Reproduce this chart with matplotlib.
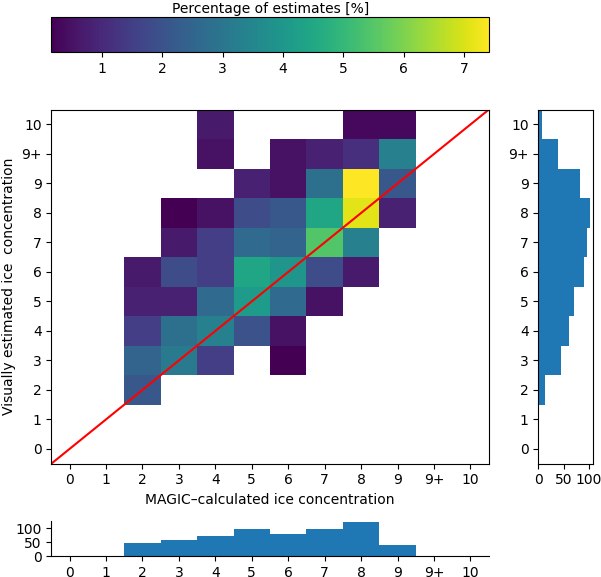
import numpy as np
import matplotlib
matplotlib.use("Agg")
import matplotlib.pyplot as plt

# Category labels (both axes)
labels = ["0", "1", "2", "3", "4", "5", "6", "7", "8", "9", "9+", "10"]

# Number of estimates per cell: rows = visual estimate (0..10), cols = MAGIC (0..10)
counts = np.array([
    # 0  1  2   3   4   5   6   7   8   9  9+ 10
    [0, 0, 0,  0,  0,  0,  0,  0,  0,  0, 0, 0],   # 0
    [0, 0, 0,  0,  0,  0,  0,  0,  0,  0, 0, 0],   # 1
    [0, 0, 13, 0,  0,  0,  0,  0,  0,  0, 0, 0],   # 2
    [0, 0, 15, 19, 9,  0,  1,  0,  0,  0, 0, 0],   # 3
    [0, 0, 9,  17, 20, 12, 3,  0,  0,  0, 0, 0],   # 4
    [0, 0, 5,  5,  16, 25, 16, 3,  0,  0, 0, 0],   # 5
    [0, 0, 4,  11, 9,  27, 24, 11, 4,  0, 0, 0],   # 6
    [0, 0, 0,  4,  9,  16, 15, 33, 20, 0, 0, 0],   # 7
    [0, 0, 0,  1,  3,  11, 13, 27, 43, 5, 0, 0],   # 8
    [0, 0, 0,  0,  0,  5,  3,  17, 45, 13, 0, 0],  # 9
    [0, 0, 0,  0,  3,  0,  3,  5,  7,  20, 0, 0],  # 9+
    [0, 0, 0,  0,  4,  0,  0,  0,  2,  2, 0, 0],   # 10
], dtype=float)

total = counts.sum()
percent = np.where(counts > 0, counts / total * 100.0, np.nan)
col_sums = counts.sum(axis=0)   # MAGIC marginal
row_sums = counts.sum(axis=1)   # visual marginal

W, H = 601, 577
fig = plt.figure(figsize=(W / 100, H / 100), dpi=100)

def fr(x0, y0, x1, y1):
    return [x0 / W, 1 - y1 / H, (x1 - x0) / W, (y1 - y0) / H]

ax = fig.add_axes(fr(51.3, 109.7, 488.7, 463.7))
axr = fig.add_axes(fr(538.3, 109.7, 593.0, 463.7), sharey=ax)
axb = fig.add_axes(fr(51.3, 520.7, 488.7, 556.0), sharex=ax)
cax = fig.add_axes(fr(51.3, 17.3, 489.3, 52.3))

n = len(labels)
idx = np.arange(n)
mesh = ax.pcolormesh(np.arange(n + 1) - 0.5, np.arange(n + 1) - 0.5,
                     np.ma.masked_invalid(percent), cmap="viridis")
ax.plot([-0.5, n - 0.5], [-0.5, n - 0.5], color="red")
ax.set_xlim(-0.5, n - 0.5)
ax.set_ylim(-0.5, n - 0.5)
ax.set_xticks(idx)
ax.set_xticklabels(labels)
ax.set_yticks(idx)
ax.set_yticklabels(labels)
ax.set_xlabel("MAGIC\u2013calculated ice concentration")
ax.set_ylabel("Visually estimated ice  concentration")

axr.barh(idx, row_sums, height=1.0, color="#1f77b4")
axr.set_xticks([0, 50, 100])
axr.tick_params(axis="y", labelleft=True)

axb.bar(idx, col_sums, width=1.0, color="#1f77b4")
axb.set_yticks([0, 50, 100])
axb.spines["top"].set_visible(False)
axb.spines["right"].set_visible(False)
axb.tick_params(axis="x", labelbottom=True)
ax.tick_params(axis="x", labelbottom=True)

cb = fig.colorbar(mesh, cax=cax, orientation="horizontal")
cax.set_title("Percentage of estimates [%]", fontsize=10, pad=3)

fig.savefig("out.png", dpi=100)
